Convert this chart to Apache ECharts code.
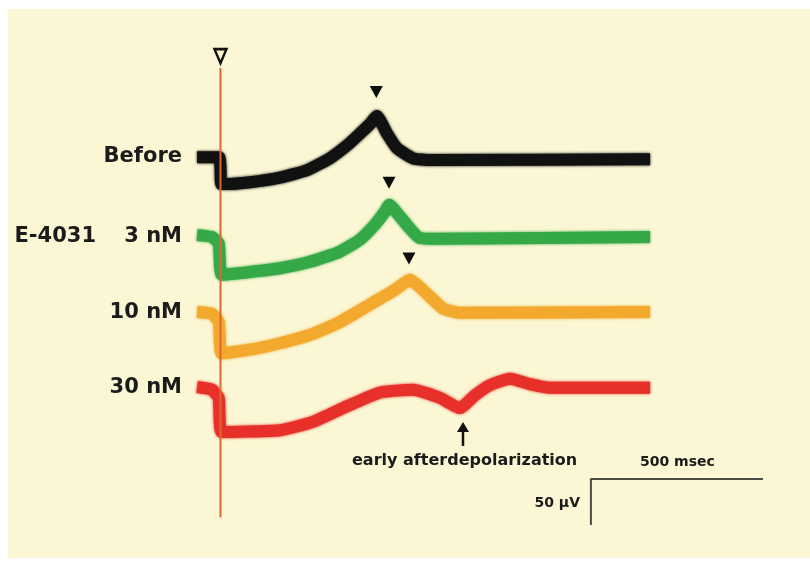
<!DOCTYPE html>
<html>
<head>
<meta charset="utf-8">
<script src="https://cdn.jsdelivr.net/npm/echarts@6/dist/echarts.min.js"></script>
<style>
  html, body { margin: 0; padding: 0; background: #ffffff; }
  #main { width: 810px; height: 565px; }
</style>
</head>
<body>
<div id="main"></div>
<script>
// time in msec from stimulus, amplitude in microvolt relative to pre-stimulus baseline
var traceBefore = [
  [-68, 0], [-4, 0], [2, -29], [13, -29], [86, -27], [173, -22], [251, -14], [318, -1],
  [368, 13], [406, 26], [434, 36], [455, 45], [484, 26], [513, 10], [560, -1], [609, -3], [1249, -2]
];
var trace3nM = [
  [-68, 1], [-25, -1], [-5, -8], [4, -42], [86, -39], [173, -35], [260, -28], [347, -17],
  [405, -4], [448, 12], [477, 26], [491, 34], [520, 22], [549, 9], [578, -2], [636, -3], [1249, -1]
];
var trace10nM = [
  [-68, 0], [-25, -2], [-5, -11], [4, -45], [86, -41], [173, -34], [260, -25], [347, -11],
  [434, 8], [507, 24], [551, 35], [594, 22], [646, 4], [696, -1], [1249, 0]
];
var trace30nM = [
  [-68, 1], [-25, -2], [-5, -11], [4, -48], [173, -46], [269, -37], [368, -20], [464, -5],
  [560, -2], [639, -11], [696, -22], [740, -8], [784, 3], [842, 10], [900, 4], [958, 0], [1249, 0]
];
// peak markers (msec, microvolt above baseline)
var peakBefore = [[453, 71]];
var peak3nM = [[490, 58]];
var peak10nM = [[548, 58]];

var traceNames = ['Before', '3 nM', '10 nM', '30 nM'];
var traceColors = ['#111111', '#35a948', '#f2a92e', '#e8302b'];
var baselines = [-171, -256.5, -339, -421.5];   // vertical placement of each trace

var scaleBarTime = 500;    // msec
var scaleBarVolt = 50;     // microvolt

function shift(arr, off) {
  return arr.map(function (p) { return [p[0], p[1] + off]; });
}

var chart = echarts.init(document.getElementById('main'));

var traces = [traceBefore, trace3nM, trace10nM, trace30nM];
var series = [];
for (var i = 0; i < traces.length; i++) {
  series.push({
    name: traceNames[i],
    type: 'line',
    data: shift(traces[i], baselines[i]),
    symbol: 'none',
    smooth: 0.15,
    lineStyle: {
      color: traceColors[i], width: 12, cap: 'butt', join: 'round',
      shadowColor: traceColors[i], shadowBlur: 3
    },
    z: 2
  });
}

// filled arrowheads above the peaks
series.push({
  type: 'scatter',
  data: shift(peakBefore, baselines[0]).concat(shift(peak3nM, baselines[1]), shift(peak10nM, baselines[2])),
  symbol: 'triangle',
  symbolRotate: 180,
  symbolSize: [13, 12],
  itemStyle: { color: '#0d0d0d', opacity: 1 },
  z: 3
});

// stimulus line and open arrowhead
series.push({
  type: 'line',
  data: [[0, -74], [0, -562]],
  symbol: 'none',
  lineStyle: { color: '#e0662f', width: 2 },
  z: 4
});
series.push({
  type: 'scatter',
  data: [[0, -61]],
  symbol: 'triangle',
  symbolRotate: 180,
  symbolSize: [12, 14],
  itemStyle: { color: '#fbf6d3', borderColor: '#111111', borderWidth: 2.5, opacity: 1 },
  z: 4
});

// scale bar
var sbT = 1077, sbV = -520.5;
series.push({
  type: 'line',
  data: [[sbT + scaleBarTime, sbV], [sbT, sbV], [sbT, sbV - scaleBarVolt]],
  symbol: 'none',
  lineStyle: { color: '#4a4a44', width: 2 },
  z: 2
});

var labelFont = { fontFamily: 'DejaVu Sans', fontWeight: 'bold', fill: '#1b1b1b' };
function txt(x, y, s, size, align) {
  return {
    type: 'text', x: x, y: y, z: 10,
    style: Object.assign({ text: s, fontSize: size, align: align || 'right', verticalAlign: 'middle' }, labelFont)
  };
}

var option = {
  animation: false,
  backgroundColor: '#ffffff',
  grid: { left: 0, right: 0, top: 0, bottom: 0 },
  xAxis: { type: 'value', min: -641, max: 1714, show: false },
  yAxis: { type: 'value', min: -614, max: 0, show: false },
  graphic: [
    { type: 'rect', shape: { x: 8, y: 9, width: 802, height: 549 }, style: { fill: '#fbf6d3' }, z: -10 },
    txt(182, 157, 'Before', 21),
    txt(96, 237, 'E-4031', 21),
    txt(182, 237, '3 nM', 21),
    txt(182, 313, '10 nM', 21),
    txt(182, 388, '30 nM', 21),
    txt(352, 461, 'early afterdepolarization', 16, 'left'),
    txt(640, 462, '500 msec', 14, 'left'),
    txt(580, 503, '50 \u00b5V', 14),
    { type: 'line', z: 10, shape: { x1: 463, y1: 446, x2: 463, y2: 428 }, style: { stroke: '#111111', lineWidth: 2.5 } },
    { type: 'polygon', z: 10, shape: { points: [[463, 422], [457, 432], [469, 432]] }, style: { fill: '#111111' } }
  ],
  series: series
};
chart.setOption(option);
window.onresize = chart.resize;
</script>
</body>
</html>
